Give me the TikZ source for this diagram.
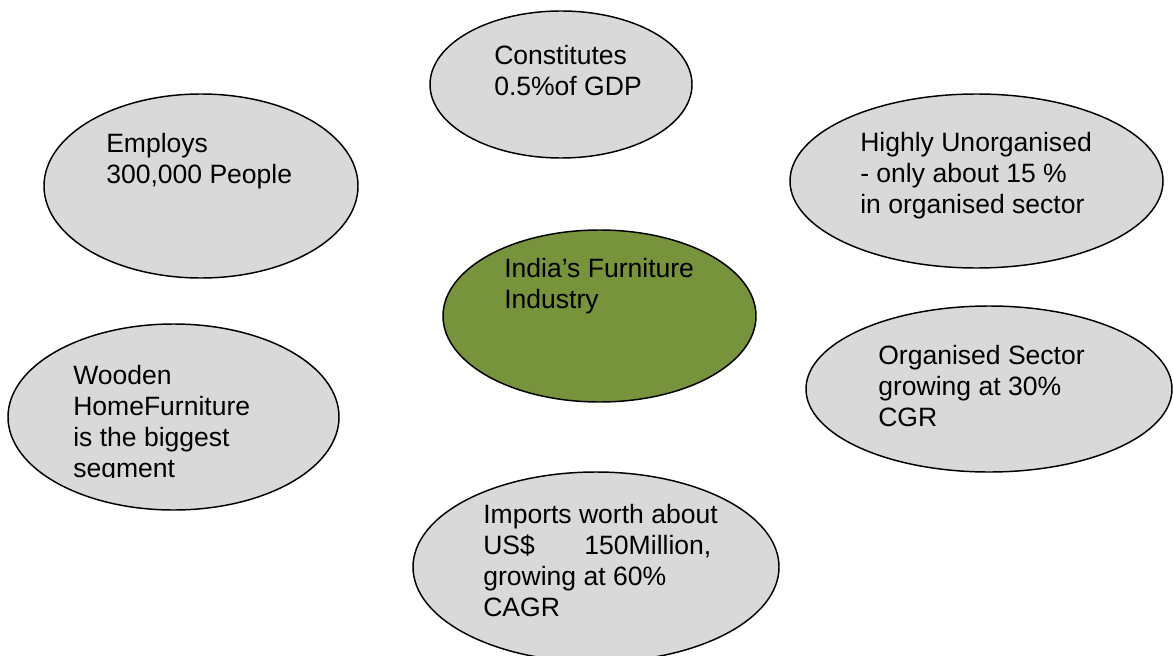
\documentclass[tikz,border=0pt]{standalone}
\usepackage{fontspec}
\setmainfont{Liberation Sans}
\usetikzlibrary{shapes.geometric}
\definecolor{bubgray}{RGB}{217,217,217}
\definecolor{bubgreen}{RGB}{119,147,60}
\tikzset{
  bub/.style 2 args={ellipse, draw=black, line width=1.1pt, fill=bubgray, inner sep=0pt,
    minimum width=#1*1.5pt, minimum height=#2*1.5pt},
  txt/.style={anchor=north west, inner sep=0pt, align=left,
    font=\fontsize{19.9}{23.25}\selectfont}
}
\begin{document}
\begin{tikzpicture}[x=0.75pt, y=-0.75pt]
            \clip (0,0) rectangle (1173,656);
            \node[bub={131}{73.5}] (GDP) at (561,84.5) {};
            \node[bub={157}{92}] (Jobs) at (201,186) {};
            \node[bub={186.5}{87}] (Unorg) at (976.5,181) {};
            \node[bub={156.5}{86}, fill=bubgreen] (Ind) at (599.5,316) {};
            \node[bub={165.5}{93}] (Wood) at (173.5,417) {};
            \node[bub={183}{83}] (OrgSec) at (989,389) {};
            \node[bub={183}{95}] (Imp) at (596,567) {};

            \node[txt] (GDPt) at (494,45.5) {Constitutes\\0.5\%of GDP};
            \node[txt] (Jobst) at (106,133.5) {Employs\\300,000 People};
            \node[txt] (Unorgt) at (860,132.5) {Highly Unorganised\\- only about 15 \%\\in organised sector};
            \node[txt] (Indt) at (504,258.5) {India’s Furniture\\Industry};
            \node[txt] (OrgSect) at (878,345.5) {Organised Sector\\growing at 30\%\\CGR};
            \node[txt] (Impt) at (483,503.5) {Imports worth about\\US\$\hspace{1.87em}150Million,\\growing at 60\%\\CAGR};
            \begin{scope}
              \clip (0,300) rectangle (340,477);
              \node[txt] (Woodt) at (73,365.5) {Wooden\\HomeFurniture\\is the biggest\\segment};
            \end{scope}
\end{tikzpicture}
\end{document}
